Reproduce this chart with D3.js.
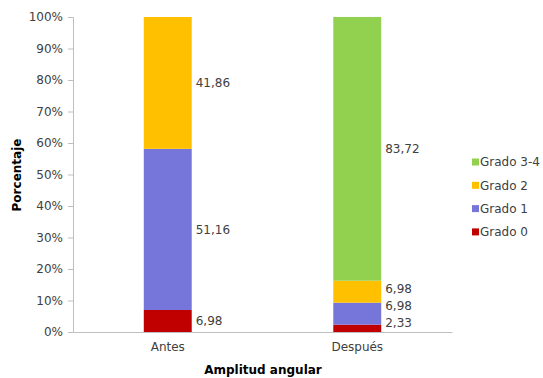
<!DOCTYPE html>
<html><head><meta charset="utf-8">
<script src="https://cdn.jsdelivr.net/npm/d3@7"></script>
<style>body{margin:0;background:#fff}svg{display:block}text{font-family:"DejaVu Sans",Verdana,sans-serif}</style>
</head><body>
<svg id="c" width="543" height="378"></svg>
<script>
const categories = ["Antes", "Después"];
const seriesNames = ["Grado 0", "Grado 1", "Grado 2", "Grado 3-4"];
const grado0 = [6.98, 2.33];
const grado1 = [51.16, 6.98];
const grado2 = [41.86, 6.98];
const grado34 = [0, 83.72];
const colors = ["#C00000", "#7676DA", "#FFC000", "#92D050"];
const yTicks = [0,10,20,30,40,50,60,70,80,90,100];

const series = [grado0, grado1, grado2, grado34];
const rows = categories.map((c, i) => {
  const r = {cat: c};
  seriesNames.forEach((s, j) => r[s] = series[j][i]);
  return r;
});
const stacked = d3.stack().keys(seriesNames)(rows);

const svg = d3.select("#c");
const x = d3.scaleBand().domain(categories).range([73, 452]).paddingInner(0.747).paddingOuter(0.3735);
const y = d3.scaleLinear().domain([0, 100]).range([332, 17]);
const txt = "#404040";

// y axis
const ya = svg.append("g").attr("transform", "translate(73,0)")
  .call(d3.axisLeft(y).tickValues(yTicks).tickSize(5).tickPadding(5).tickFormat(d => d + "%"));
ya.select(".domain").attr("stroke", "#BFBFBF");
ya.selectAll(".tick line").attr("stroke", "#BFBFBF");
ya.selectAll(".tick text").attr("fill", txt).style("font-size", "12px").style("font-family", "DejaVu Sans");

// x axis
const xa = svg.append("g").attr("transform", "translate(0,332)")
  .call(d3.axisBottom(x).tickSize(0).tickPadding(10));
xa.select(".domain").attr("stroke", "#BFBFBF");
xa.selectAll(".tick text").attr("fill", txt).style("font-size", "12px").style("font-family", "DejaVu Sans");

// bars
stacked.forEach((s, j) => {
  svg.append("g").selectAll("rect").data(s).join("rect")
    .attr("x", d => x(d.data.cat))
    .attr("width", x.bandwidth())
    .attr("y", d => y(d[1]))
    .attr("height", d => y(d[0]) - y(d[1]))
    .attr("fill", colors[j]);
});

// labels with simple collision avoidance, per category bottom-up
categories.forEach((c, i) => {
  let prev = null;
  stacked.forEach((s, j) => {
    const d = s[i];
    const v = d[1] - d[0];
    if (v <= 0) return;
    let cy = (y(d[0]) + y(d[1])) / 2;
    cy = Math.min(cy, y(0) - 9);
    if (prev !== null) cy = Math.min(cy, prev - 17);
    prev = cy;
    svg.append("text")
      .attr("x", x(c) + x.bandwidth() + 4)
      .attr("y", cy)
      .attr("dy", "0.35em")
      .attr("fill", txt)
      .style("font-size", "12px")
      .text(d3.format(".2f")(v).replace(".", ","));
  });
});

// axis titles
svg.append("text").attr("x", 263).attr("y", 374).attr("text-anchor", "middle")
  .attr("font-weight", "bold").attr("fill", "#000").style("font-size", "12px").text("Amplitud angular");
svg.append("text").attr("transform", "translate(21,175) rotate(-90)").attr("text-anchor", "middle")
  .attr("font-weight", "bold").attr("fill", "#000").style("font-size", "12px").text("Porcentaje");

// legend (top = Grado 3-4)
const leg = svg.append("g");
const legOrder = seriesNames.slice().reverse();
legOrder.forEach((n, k) => {
  const j = seriesNames.indexOf(n);
  const gy = 162 + k * 23.3;
  leg.append("rect").attr("x", 472).attr("y", gy - 3.5).attr("width", 7).attr("height", 7).attr("fill", colors[j]);
  leg.append("text").attr("x", 480).attr("y", gy).attr("dy", "0.35em").attr("fill", txt)
    .style("font-size", "12px").text(n);
});
</script>
</body></html>
